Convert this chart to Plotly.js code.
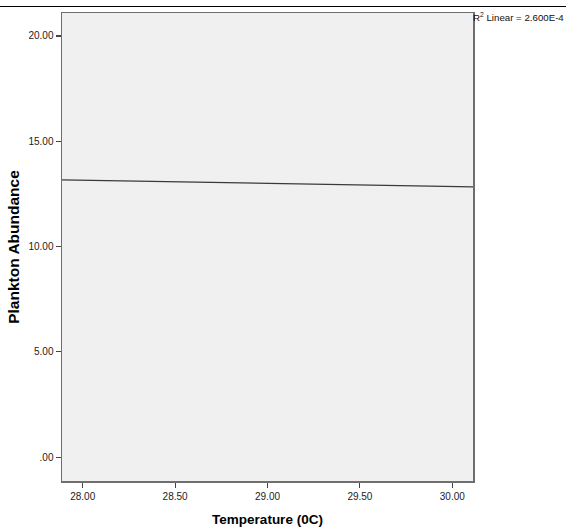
<!DOCTYPE html>
<html>
<head>
<meta charset="utf-8">
<script src="https://cdn.plot.ly/plotly-3.0.1.min.js"></script>
<style>html,body{margin:0;padding:0;background:#fff;}#chart{width:566px;height:530px;}</style>
</head>
<body>
<div id="chart"></div>
<script>
// Fit line (linear regression)
var fitX = [27.888, 30.112];
var fitY = [13.17, 12.83];
var xTicks = [28.0, 28.5, 29.0, 29.5, 30.0];
var xTickLabels = ["28.00", "28.50", "29.00", "29.50", "30.00"];
var yTicks = [0, 5, 10, 15, 20];
var yTickLabels = [".00", "5.00", "10.00", "15.00", "20.00"];
var r2Text = "R<sup>2</sup> Linear = 2.600E-4";

var trace = {
  x: fitX, y: fitY, type: 'scatter', mode: 'lines',
  line: {color: '#3a3a3a', width: 1.2},
  hoverinfo: 'skip', showlegend: false
};

var axisCommon = {
  showline: true, linecolor: '#6e6e6e', linewidth: 1.5, mirror: true,
  showgrid: false, zeroline: false,
  ticks: 'outside', ticklen: 5, tickwidth: 1.2, tickcolor: '#444',
  tickfont: {family: 'Liberation Sans, Arial, sans-serif', size: 10, color: '#222'}
};

var layout = {
  width: 566, height: 530,
  margin: {l: 62, r: 93, t: 13, b: 49},
  paper_bgcolor: '#ffffff',
  plot_bgcolor: '#f0f0f0',
  showlegend: false,
  xaxis: Object.assign({}, axisCommon, {
    range: [27.888, 30.112],
    tickmode: 'array', tickvals: xTicks, ticktext: xTickLabels,
    title: {text: 'Temperature (0C)', standoff: 14,
      font: {family: 'Liberation Sans, Arial, sans-serif', size: 13.5, color: '#000', weight: 'bold'}}
  }),
  yaxis: Object.assign({}, axisCommon, {
    range: [-1.13, 21.09],
    tickmode: 'array', tickvals: yTicks, ticktext: yTickLabels,
    title: {text: 'Plankton Abundance', standoff: 5,
      font: {family: 'Liberation Sans, Arial, sans-serif', size: 15.5, color: '#000', weight: 'bold'}}
  }),
  annotations: [{
    xref: 'paper', yref: 'paper', x: 1, y: 1, xanchor: 'left', yanchor: 'top',
    text: r2Text, showarrow: false, xshift: -1, yshift: 3, borderpad: 0,
    font: {family: 'Liberation Sans, Arial, sans-serif', size: 9.7, color: '#111'}
  }],
  shapes: [{
    type: 'line', xref: 'paper', yref: 'paper',
    x0: -62/411, x1: (566-62)/411, y0: 1 + 6.5/468, y1: 1 + 6.5/468,
    line: {color: '#000', width: 1.2}
  }]
};

Plotly.newPlot('chart', [trace], layout, {displayModeBar: false, staticPlot: true});
</script>
</body>
</html>
